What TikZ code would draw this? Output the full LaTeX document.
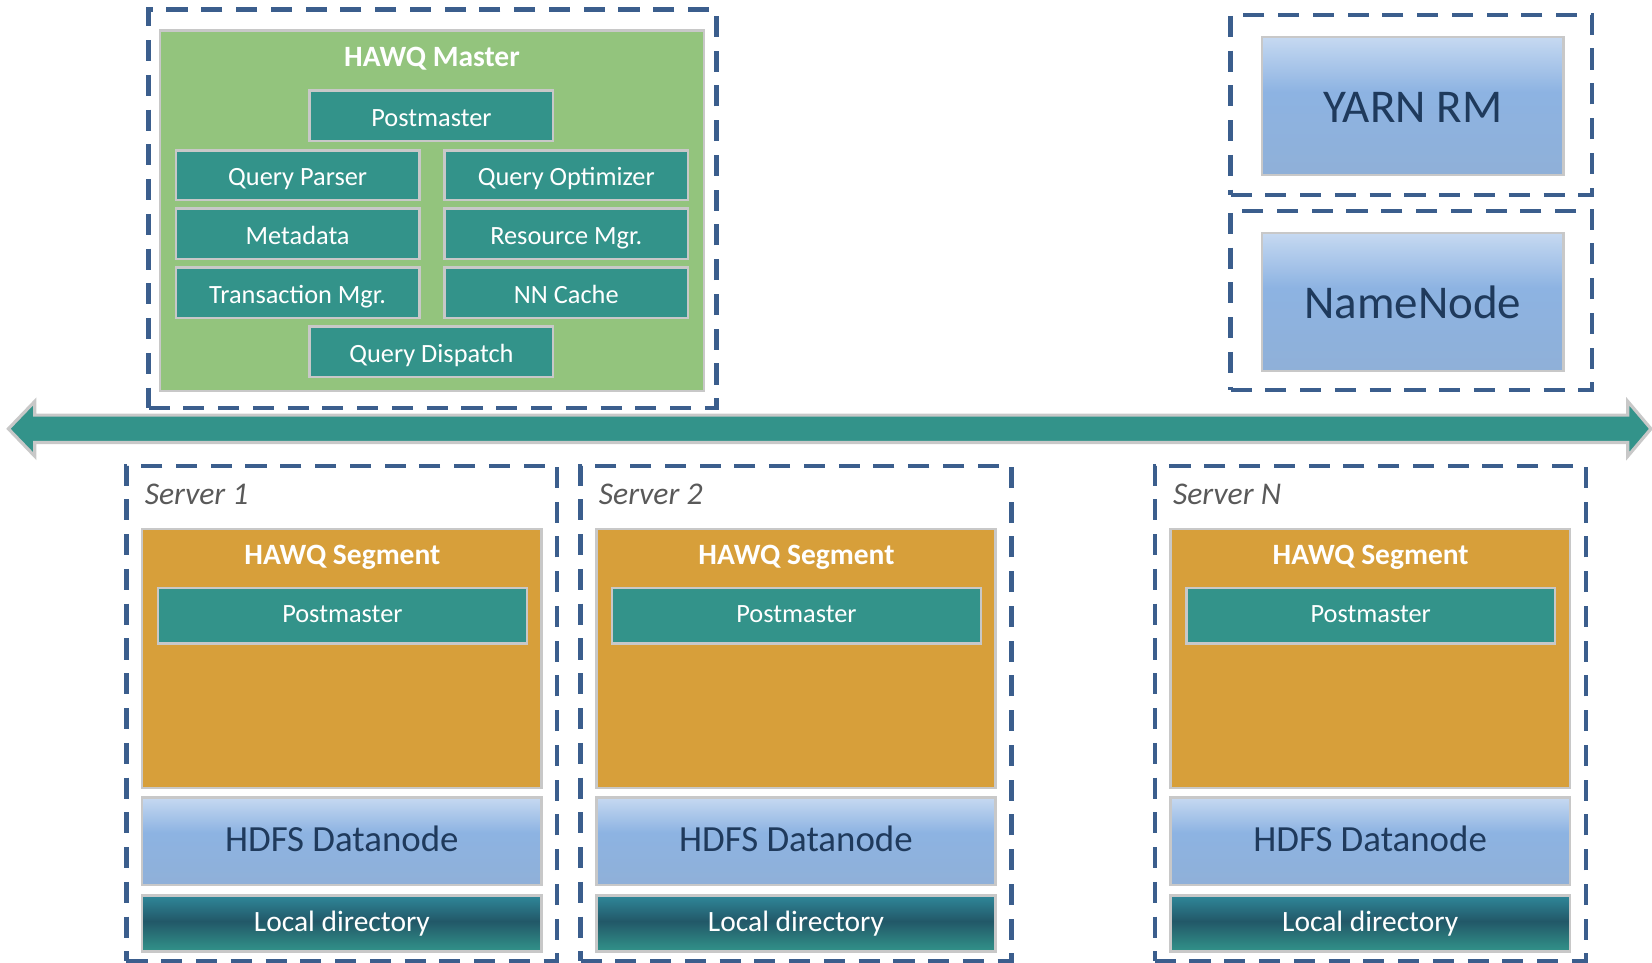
\documentclass[tikz,border=0pt]{standalone}
\usepackage{fontspec}
\setmainfont{Carlito}
\usetikzlibrary{fit}
\definecolor{tealbox}{HTML}{33938A}
\definecolor{masterg}{HTML}{93C47D}
\definecolor{segor}{HTML}{D79F3A}
\definecolor{dashc}{HTML}{3B5E8D}
\definecolor{edgeg}{HTML}{C8C8C8}
\definecolor{navy}{HTML}{1F3A5C}
\definecolor{hdtop}{HTML}{C6D9F1}
\definecolor{hdmid}{HTML}{8DB3E2}
\definecolor{hdbot}{HTML}{8FB0D8}
\definecolor{ldtop}{HTML}{2F8799}
\definecolor{ldmid}{HTML}{225868}
\definecolor{ldbot}{HTML}{32938A}
\definecolor{srvtxt}{HTML}{595959}
\pgfdeclareverticalshading{hdfsshade}{100bp}{color(0bp)=(hdbot); color(25bp)=(hdbot); color(55bp)=(hdmid); color(75bp)=(hdtop); color(100bp)=(hdtop)}
\pgfdeclareverticalshading{ldshade}{100bp}{color(0bp)=(ldbot); color(25bp)=(ldbot); color(52bp)=(ldmid); color(75bp)=(ldtop); color(100bp)=(ldtop)}
\tikzset{
  btext/.style={inner sep=0pt, anchor=base},
  plainbox/.style={draw=edgeg, line width=1.2pt, inner sep=0pt},
  tbox/.style={plainbox, fill=tealbox},
  ttext/.style={btext, text=white, font=\fontsize{12.5}{14}\selectfont},
  dashbox/.style={draw=dashc, line width=2pt, dash pattern=on 10pt off 6.5pt, inner sep=0pt},
  greenbox/.style={plainbox, fill=masterg},
  segbox/.style={plainbox, fill=segor},
  bluebox/.style={plainbox, shading=hdfsshade},
  hdfstext/.style={btext, text=navy, font=\fontsize{17.5}{20}\selectfont},
  bigtext/.style={btext, text=navy, font=\fontsize{22.3}{26}\selectfont},
  ldbox/.style={plainbox, shading=ldshade},
  ldtext/.style={btext, text=white, font=\fontsize{14}{16}\selectfont},
  titletext/.style={btext, text=white, font=\fontsize{14}{16}\selectfont\bfseries},
  srvlabel/.style={inner sep=0pt, anchor=base west, text=srvtxt, font=\fontsize{15}{17}\selectfont\itshape},
  busarrow/.style={fill=tealbox, draw=edgeg, line width=1.5pt, line join=miter}
}
\begin{document}
\begin{tikzpicture}[x=0.5pt,y=-0.5pt]
\useasboundingbox (0,0) rectangle (1568,914);
% Master
\node[dashbox, fit={(141,9) (680,387)}] (masterframe) {};
\node[greenbox, fit={(152,29) (668,371)}] (master) {};
\node[titletext] (mastertitle) at (410,63) {HAWQ Master};
\foreach \nm/\xa/\ya/\xb/\yb/\txt in {
  pm/294/86/525/134/Postmaster,
  qp/167/143/398/190/Query Parser,
  qo/422/143/653/190/Query Optimizer,
  md/167/198/398/246/Metadata,
  rm/422/198/653/246/Resource Mgr.,
  tm/167/254/398/302/Transaction Mgr.,
  nn/422/254/653/302/NN Cache,
  qd/294/310/525/358/Query Dispatch}{
  \node[tbox, fit={(\xa,\ya) (\xb,\yb)}] (\nm) {};
  \node[ttext] (\nm-t) at ([yshift=-4.8pt]\nm.center) {\txt};
}
% YARN / NameNode
\node[dashbox, fit={(1168,14) (1511,185)}] (yarnframe) {};
\node[bluebox, fit={(1198,35) (1484,166)}] (yarn) {};
\node[bigtext] (yarn-t) at ([yshift=-8pt]yarn.center) {YARN RM};
\node[dashbox, fit={(1168,200) (1511,370)}] (nnframe) {};
\node[bluebox, fit={(1198,221) (1484,352)}] (namenode) {};
\node[bigtext] (namenode-t) at ([yshift=-8pt]namenode.center) {NameNode};
% bus arrow
\draw[busarrow] (8,407) -- (33,381) -- (33,394) -- (1545,394) -- (1545,381) -- (1567,407)
  -- (1545,433) -- (1545,420) -- (33,420) -- (33,433) -- cycle;
% Servers
\foreach \x/\n/\lab in {120/1/Server 1, 551/2/Server 2, 1096/N/Server N}{
  \node[dashbox, fit={(\x,442) (\x+409,912)}] (srv\n) {};
  \node[srvlabel] (srvlab\n) at (\x+17,479) {\lab};
  \node[segbox, fit={(\x+15,502) (\x+394,748)}] (seg\n) {};
  \node[titletext] (segtitle\n) at (\x+205,536) {HAWQ Segment};
  \node[tbox, fit={(\x+30,558) (\x+380,611)}] (segpm\n) {};
  \node[ttext] (segpm\n-t) at ([yshift=-3.2pt]segpm\n.center) {Postmaster};
  \node[bluebox, fit={(\x+15,757) (\x+394,840)}] (hdfs\n) {};
  \node[hdfstext] (hdfs\n-t) at ([yshift=-5pt]hdfs\n.center) {HDFS Datanode};
  \node[ldbox, fit={(\x+15,850) (\x+394,903)}] (ld\n) {};
  \node[ldtext] (ld\n-t) at ([yshift=-4pt]ld\n.center) {Local directory};
}
\end{tikzpicture}
\end{document}
